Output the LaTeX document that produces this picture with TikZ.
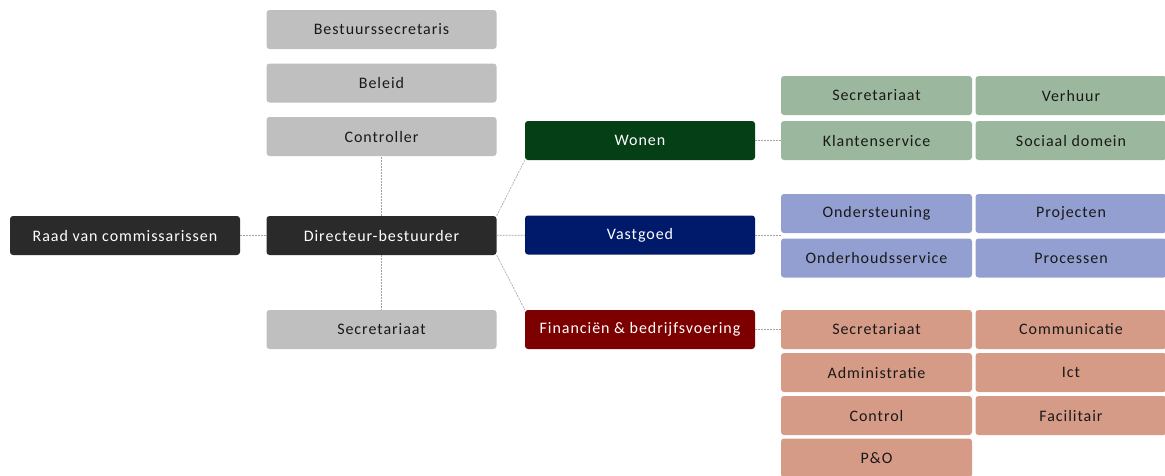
\documentclass[tikz,border=0pt]{standalone}
\usepackage{fontspec}
\setmainfont{Carlito}[LetterSpace=6]
\usepackage{xcolor}
\usetikzlibrary{positioning,calc}
\definecolor{ash}{HTML}{BFBFBF}
\definecolor{coal}{HTML}{2A2A2A}
\definecolor{forest}{HTML}{043F16}
\definecolor{navy}{HTML}{001A6B}
\definecolor{wine}{HTML}{7D0000}
\definecolor{sage}{HTML}{9BB89E}
\definecolor{periwinkle}{HTML}{939FD0}
\definecolor{salmon}{HTML}{D69B86}
\definecolor{wire}{HTML}{A0A0A0}

\begin{document}
\begin{tikzpicture}[x=1pt,y=-1pt,
  unit/.style={rounded corners=3pt, minimum width=230pt, minimum height=39pt, inner sep=0pt, font=\fontsize{16}{19}\selectfont, text=black!90},
  dark/.style={unit, text=white},
  team/.style={unit, minimum width=191pt},
  link/.style={draw=wire, line width=0.6pt, dash pattern=on 2pt off 1pt}
]
  \useasboundingbox (0,0) rectangle (1165,475);
  % board and staff
  \node[dark, fill=coal] (raad) at (125,235.5) {Raad van commissarissen};
  \node[dark, fill=coal] (dir) at (381.5,235.5) {Directeur-bestuurder};
  \node[unit, fill=ash] (bsec) at (381.5,29.5) {Bestuurssecretaris};
  \node[unit, fill=ash] (beleid) at (381.5,83) {Beleid};
  \node[unit, fill=ash] (ctrl) at (381.5,136.5) {Controller};
  \node[unit, fill=ash] (sec) at (381.5,329.5) {Secretariaat};
  % departments
  \node[dark, fill=forest] (wonen) at (640,140.5) {Wonen};
  \node[dark, fill=navy] (vast) at (640,235) {Vastgoed};
  \node[dark, fill=wine] (fin) at (640,329.5) {Financiën \& bedrijfsvoering};
  % wonen teams
  \node[team, fill=sage] (w1) at (876.5,95.5) {Secretariaat};
  \node[team, fill=sage] (w2) at (1071,95.5) {Verhuur};
  \node[team, fill=sage] (w3) at (876.5,140.5) {Klantenservice};
  \node[team, fill=sage] (w4) at (1071,140.5) {Sociaal domein};
  % vastgoed teams
  \node[team, fill=periwinkle] (v1) at (876.5,213.5) {Ondersteuning};
  \node[team, fill=periwinkle] (v2) at (1071,213.5) {Projecten};
  \node[team, fill=periwinkle] (v3) at (876.5,258) {Onderhoudsservice};
  \node[team, fill=periwinkle] (v4) at (1071,258) {Processen};
  % financien teams
  \node[team, fill=salmon] (f1) at (876.5,329.5) {Secretariaat};
  \node[team, fill=salmon] (f2) at (1071,329.5) {Communicatie};
  \node[team, fill=salmon] (f3) at (876.5,372.5) {Administratie};
  \node[team, fill=salmon] (f4) at (1071,372.5) {Ict};
  \node[team, fill=salmon] (f5) at (876.5,415.5) {Control};
  \node[team, fill=salmon] (f6) at (1071,415.5) {Facilitair};
  \node[team, fill=salmon] (f7) at (876.5,458) {P\&O};
  % links
  \draw[link] (raad) -- (dir);
  \draw[link] (dir) -- (ctrl);
  \draw[link] (dir) -- (sec);
  \draw[link] (dir.north east) -- (wonen.south west);
  \draw[link] (dir) -- (vast);
  \draw[link] (dir.south east) -- (fin.north west);
  \draw[link] (wonen) -- (w3);
  \draw[link] (vast.east) -- (vast.east -| v1.west);
  \draw[link] (fin) -- (f1);
\end{tikzpicture}
\end{document}
